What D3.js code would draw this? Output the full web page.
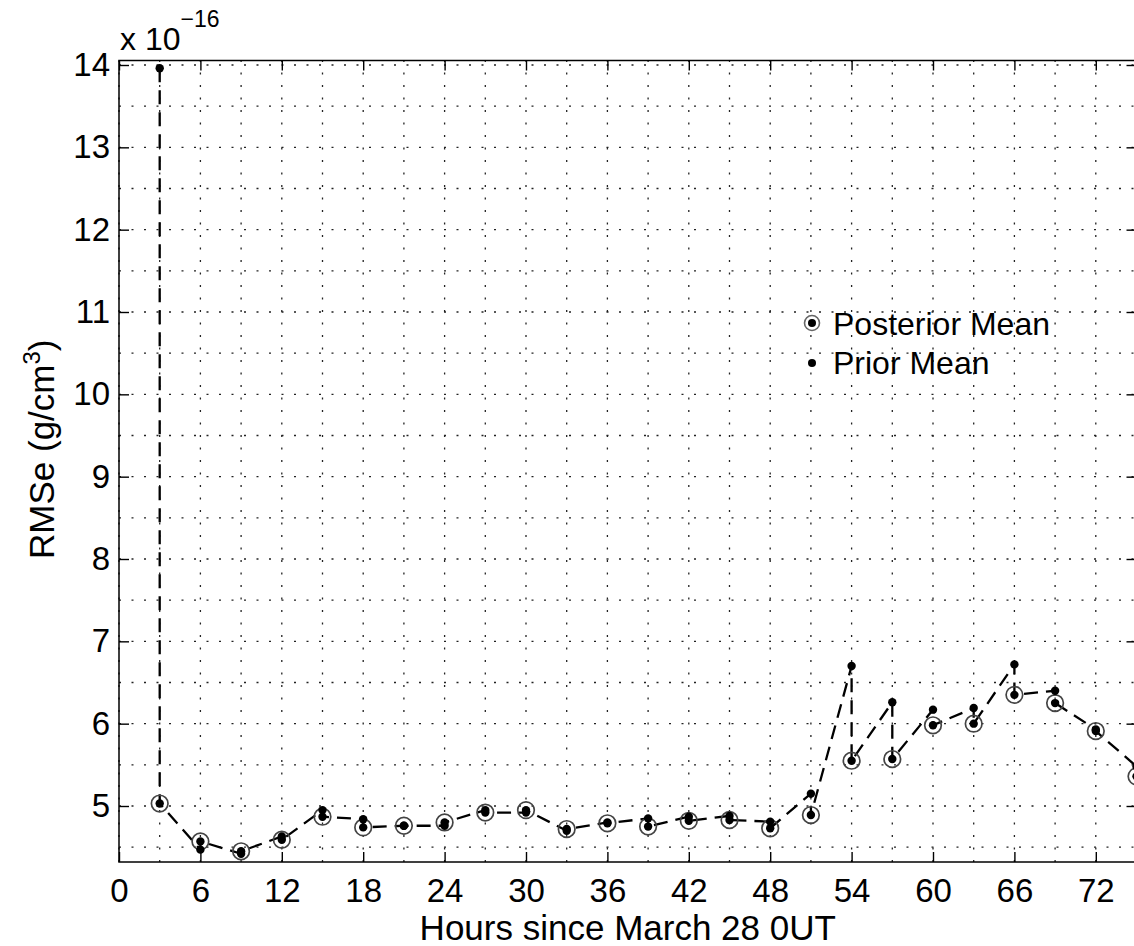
<!DOCTYPE html>
<html>
<head>
<meta charset="utf-8">
<script src="https://cdn.jsdelivr.net/npm/d3@7"></script>
<style>
  body { margin: 0; background: #fff; }
  text { font-family: "Liberation Sans", Arial, sans-serif; fill: #000; }
</style>
</head>
<body>
<div id="chart"></div>
<script>

// hours since March 28 0UT
const hours = [3, 6, 9, 12, 15, 18, 21, 24, 27, 30, 33, 36, 39, 42, 45, 48, 51, 54, 57, 60, 63, 66, 69, 72, 75]

// RMSe values, in units of 1e-16 g/cm^3
const posteriorMean = [5.03, 4.57, 4.45, 4.59, 4.87, 4.74, 4.76, 4.80, 4.92, 4.95, 4.72, 4.79, 4.75,
                       4.82, 4.83, 4.73, 4.89, 5.55, 5.57, 5.98, 6.00, 6.35, 6.25, 5.91, 5.36]
const priorMean = [13.96, 4.47, 4.42, 4.63, 4.95, 4.84, 4.76, 4.76, 4.95, 4.92, 4.70, 4.80, 4.85,
                   4.87, 4.88, 4.81, 5.15, 6.70, 6.26, 6.17, 6.19, 6.72, 6.40, 5.93, 5.48]

const xTicks = [0, 6, 12, 18, 24, 30, 36, 42, 48, 54, 60, 66, 72]
const xGrid = d3.range(0, 76, 3)
const yTicks = [5, 6, 7, 8, 9, 10, 11, 12, 13, 14]
const yGrid = d3.range(4.5, 14.01, 0.5)

const legendLabels = ["Posterior Mean", "Prior Mean"]

const showViz = ()=>{

  const width = 1134
  const height = 946

  const left = 119, right = 1136.5, top = 60.5, bottom = 862

  let svg = d3.select("#chart")
              .append("svg")
                .attr("width", width)
                .attr("height", height)

  let x = d3.scaleLinear().domain([0, 75]).range([left, right])
  let y = d3.scaleLinear().domain([4.3198, 14.0547]).range([bottom, top])

  // dotted grid (major + minor)
  let grid = svg.append("g")
  grid.selectAll("line.gx")
      .data(xGrid)
      .join("line")
        .attr("x1", d => x(d)).attr("x2", d => x(d))
        .attr("y1", bottom).attr("y2", top)
  grid.selectAll("line.gy")
      .data(yGrid)
      .join("line")
        .attr("class", "gy")
        .attr("x1", left).attr("x2", right)
        .attr("y1", d => y(d)).attr("y2", d => y(d))
  grid.selectAll("line")
      .attr("stroke", "#222")
      .attr("stroke-width", 1.3)
      .attr("stroke-dasharray", "2,10.5")

  // sawtooth path: prior -> posterior at each hour, then on to the next prior
  let pts = []
  hours.forEach((h, i)=>{
    pts.push([h, priorMean[i]])
    pts.push([h, posteriorMean[i]])
  })

  svg.append("path")
      .datum(pts)
      .attr("fill", "none")
      .attr("stroke", "#000")
      .attr("stroke-width", 2.3)
      .attr("stroke-dasharray", "14,8")
      .attr("d", d3.line().x(d => x(d[0])).y(d => y(d[1])))

  // posterior: ring with a dot
  svg.append("g")
      .selectAll("circle")
      .data(hours)
      .join("circle")
        .attr("cx", d => x(d))
        .attr("cy", (d, i) => y(posteriorMean[i]))
        .attr("r", 8.3)
        .attr("fill", "none")
        .attr("stroke", "#444")
        .attr("stroke-width", 1.7)

  svg.append("g")
      .selectAll("circle")
      .data(hours)
      .join("circle")
        .attr("cx", d => x(d))
        .attr("cy", (d, i) => y(posteriorMean[i]))
        .attr("r", 4.2)
        .attr("fill", "#000")

  // prior dots
  svg.append("g")
      .selectAll("circle")
      .data(hours)
      .join("circle")
        .attr("cx", d => x(d))
        .attr("cy", (d, i) => y(priorMean[i]))
        .attr("r", 4.2)
        .attr("fill", "#000")

  // axes, ticks point inward
  const fontSize = 33

  let xAxis = svg.append("g")
      .attr("transform", `translate(0,${bottom})`)
      .call(d3.axisBottom(x).tickValues(xTicks).tickSizeInner(-10).tickSizeOuter(0).tickPadding(17))
  let yAxis = svg.append("g")
      .attr("transform", `translate(${left},0)`)
      .call(d3.axisLeft(y).tickValues(yTicks).tickSizeInner(-10).tickSizeOuter(0).tickPadding(9))
  let xTop = svg.append("g")
      .attr("transform", `translate(0,${top})`)
      .call(d3.axisTop(x).tickValues(xTicks).tickSizeInner(-10).tickSizeOuter(0).tickFormat(""))
  let yRight = svg.append("g")
      .attr("transform", `translate(${right},0)`)
      .call(d3.axisRight(y).tickValues(yTicks).tickSizeInner(-10).tickSizeOuter(0).tickFormat(""))

  ;[xAxis, yAxis, xTop, yRight].forEach(a=>{
    a.select(".domain").remove()
    a.selectAll(".tick line").attr("stroke", "#000").attr("stroke-width", 1.4)
    a.selectAll("text").style("font-family", null).attr("font-size", fontSize).attr("fill", "#000")
  })

  svg.append("rect")
      .attr("x", left).attr("y", top)
      .attr("width", right - left).attr("height", bottom - top)
      .attr("fill", "none")
      .attr("stroke", "#000")
      .attr("stroke-width", 1.5)

  // axis labels
  svg.append("text")
      .attr("x", (left + right) / 2)
      .attr("y", 940)
      .attr("text-anchor", "middle")
      .attr("font-size", 35)
      .text("Hours since March 28 0UT")

  let yl = svg.append("text")
      .attr("transform", `translate(54,${(top + bottom) / 2 - 12}) rotate(-90)`)
      .attr("text-anchor", "middle")
      .attr("font-size", 35)
  yl.append("tspan").text("RMSe (g/cm")
  yl.append("tspan").attr("font-size", 24).attr("dy", -14).text("3")
  yl.append("tspan").attr("dy", 14).text(")")

  // exponent label
  let ex = svg.append("text")
      .attr("x", 120)
      .attr("y", 50)
      .attr("font-size", 32)
  ex.append("tspan").text("x 10")
  ex.append("tspan").attr("font-size", 23).attr("dy", -23).text("\u221216")

  // legend (no box)
  let lg = svg.append("g")
  lg.append("circle").attr("cx", 812).attr("cy", 323).attr("r", 7.5)
      .attr("fill", "none").attr("stroke", "#666").attr("stroke-width", 1.6)
  lg.append("circle").attr("cx", 812).attr("cy", 323).attr("r", 4).attr("fill", "#000")
  lg.append("circle").attr("cx", 812).attr("cy", 363).attr("r", 4).attr("fill", "#000")
  lg.selectAll("text")
      .data(legendLabels)
      .join("text")
        .attr("x", 833)
        .attr("y", (d, i) => 335 + i * 39)
        .attr("font-size", 32)
        .text(d => d)
}

showViz()
</script>
</body>
</html>
